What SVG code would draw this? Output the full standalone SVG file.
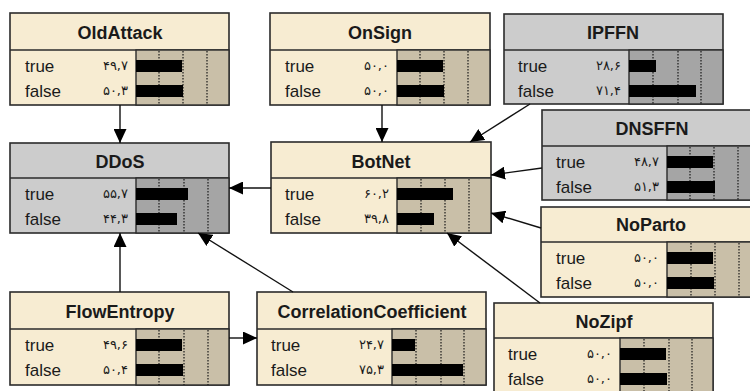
<svg xmlns="http://www.w3.org/2000/svg" width="750" height="391" viewBox="0 0 750 391">
<style>
.box{stroke:#2b2b2b;stroke-width:1.6}
.be{fill:#f7ecd2}
.gr{fill:#cccccc}
.bab{fill:#c9bfa8;stroke:#2b2b2b;stroke-width:1.4}
.bag{fill:#a5a5a5;stroke:#2b2b2b;stroke-width:1.4}
.sep{stroke:#2b2b2b;stroke-width:1.4}
.dot{stroke:#1a1a1a;stroke-width:1.2;stroke-dasharray:1.5 1.5}
.bar{fill:#000}
.t{font-family:"Liberation Sans",Arial,sans-serif;font-weight:bold;font-size:18px;text-anchor:middle;fill:#1a1a1a}
.l{font-family:"Liberation Sans",Arial,sans-serif;font-size:17px;fill:#1a1a1a}
.n{font-family:"DejaVu Sans",sans-serif;font-size:13px;text-anchor:end;fill:#1a1a1a;letter-spacing:1.5px}
.c{stroke:#111;stroke-width:1.4;fill:none;marker-end:url(#ah)}
</style>
<defs>
<marker id="ah" markerUnits="userSpaceOnUse" markerWidth="15" markerHeight="13" refX="14" refY="6.5" orient="auto">
<path d="M0,0 L14,6.5 L0,13 Z" fill="#000"/>
</marker>
</defs>
<rect width="750" height="391" fill="#fff"/>

<g id="OldAttack">
<rect class="box be" x="10" y="13" width="219" height="92"/>
<line class="sep" x1="10" y1="50" x2="229" y2="50"/>
<rect class="bab" x="136" y="50" width="93" height="55"/>
<line class="dot" x1="159" y1="51" x2="159" y2="105"/><line class="dot" x1="183" y1="51" x2="183" y2="105"/><line class="dot" x1="207" y1="51" x2="207" y2="105"/>
<rect class="bar" x="136" y="60" width="46" height="12"/><rect class="bar" x="136" y="85" width="47" height="12"/>
<text class="t" x="120" y="39">OldAttack</text>
<text class="l" x="25" y="72">true</text><text class="l" x="25" y="97">false</text>
<text class="n" x="128" y="70">۴۹,۷</text><text class="n" x="128" y="95">۵۰,۳</text>
</g>

<g id="OnSign">
<rect class="box be" x="270" y="13" width="220" height="92"/>
<line class="sep" x1="270" y1="50" x2="490" y2="50"/>
<rect class="bab" x="397" y="50" width="93" height="55"/>
<line class="dot" x1="420" y1="51" x2="420" y2="105"/><line class="dot" x1="444" y1="51" x2="444" y2="105"/><line class="dot" x1="468" y1="51" x2="468" y2="105"/>
<rect class="bar" x="397" y="60" width="46" height="12"/><rect class="bar" x="397" y="85" width="47" height="12"/>
<text class="t" x="380" y="39">OnSign</text>
<text class="l" x="285" y="72">true</text><text class="l" x="285" y="97">false</text>
<text class="n" x="389" y="70">۵۰,۰</text><text class="n" x="389" y="95">۵۰,۰</text>
</g>

<g id="IPFFN">
<rect class="box gr" x="504" y="14" width="219" height="90"/>
<line class="sep" x1="504" y1="50" x2="723" y2="50"/>
<rect class="bag" x="629" y="50" width="94" height="54"/>
<line class="dot" x1="653" y1="51" x2="653" y2="104"/><line class="dot" x1="678" y1="51" x2="678" y2="104"/><line class="dot" x1="701" y1="51" x2="701" y2="104"/>
<rect class="bar" x="629" y="60" width="27" height="12"/><rect class="bar" x="629" y="85" width="67" height="12"/>
<text class="t" x="613" y="39">IPFFN</text>
<text class="l" x="518" y="72">true</text><text class="l" x="518" y="97">false</text>
<text class="n" x="621" y="70">۲۸,۶</text><text class="n" x="621" y="95">۷۱,۴</text>
</g>

<g id="DNSFFN">
<rect class="box gr" x="542" y="110" width="222" height="90"/>
<line class="sep" x1="542" y1="146" x2="764" y2="146"/>
<rect class="bag" x="667" y="146" width="97" height="54"/>
<line class="dot" x1="690" y1="147" x2="690" y2="200"/><line class="dot" x1="714" y1="147" x2="714" y2="200"/><line class="dot" x1="738" y1="147" x2="738" y2="200"/>
<rect class="bar" x="667" y="156" width="46" height="12"/><rect class="bar" x="667" y="181" width="48" height="12"/>
<text class="t" x="652" y="135">DNSFFN</text>
<text class="l" x="556" y="168">true</text><text class="l" x="556" y="193">false</text>
<text class="n" x="659" y="166">۴۸,۷</text><text class="n" x="659" y="191">۵۱,۳</text>
</g>

<g id="NoParto">
<rect class="box be" x="541" y="207" width="223" height="90"/>
<line class="sep" x1="541" y1="242" x2="764" y2="242"/>
<rect class="bab" x="667" y="242" width="97" height="55"/>
<line class="dot" x1="691" y1="243" x2="691" y2="297"/><line class="dot" x1="715" y1="243" x2="715" y2="297"/><line class="dot" x1="739" y1="243" x2="739" y2="297"/>
<rect class="bar" x="667" y="252" width="46" height="12"/><rect class="bar" x="667" y="277" width="47" height="12"/>
<text class="t" x="651" y="231">NoParto</text>
<text class="l" x="556" y="264">true</text><text class="l" x="556" y="289">false</text>
<text class="n" x="659" y="262">۵۰,۰</text><text class="n" x="659" y="287">۵۰,۰</text>
</g>

<g id="DDoS">
<rect class="box gr" x="10" y="143" width="219" height="90"/>
<line class="sep" x1="10" y1="178" x2="229" y2="178"/>
<rect class="bag" x="136" y="178" width="93" height="55"/>
<line class="dot" x1="159" y1="179" x2="159" y2="233"/><line class="dot" x1="184" y1="179" x2="184" y2="233"/><line class="dot" x1="208" y1="179" x2="208" y2="233"/>
<rect class="bar" x="136" y="188" width="52" height="12"/><rect class="bar" x="136" y="213" width="41" height="12"/>
<text class="t" x="120" y="168">DDoS</text>
<text class="l" x="25" y="200">true</text><text class="l" x="25" y="225">false</text>
<text class="n" x="128" y="198">۵۵,۷</text><text class="n" x="128" y="223">۴۴,۳</text>
</g>

<g id="BotNet">
<rect class="box be" x="271" y="142" width="220" height="91"/>
<line class="sep" x1="271" y1="178" x2="491" y2="178"/>
<rect class="bab" x="397" y="178" width="94" height="55"/>
<line class="dot" x1="421" y1="179" x2="421" y2="233"/><line class="dot" x1="445" y1="179" x2="445" y2="233"/><line class="dot" x1="469" y1="179" x2="469" y2="233"/>
<rect class="bar" x="397" y="188" width="56" height="12"/><rect class="bar" x="397" y="213" width="37" height="12"/>
<text class="t" x="381" y="168">BotNet</text>
<text class="l" x="285" y="200">true</text><text class="l" x="285" y="225">false</text>
<text class="n" x="389" y="198">۶۰,۲</text><text class="n" x="389" y="223">۳۹,۸</text>
</g>

<g id="FlowEntropy">
<rect class="box be" x="10" y="292" width="219" height="93"/>
<line class="sep" x1="10" y1="329" x2="229" y2="329"/>
<rect class="bab" x="136" y="329" width="93" height="56"/>
<line class="dot" x1="159" y1="330" x2="159" y2="385"/><line class="dot" x1="184" y1="330" x2="184" y2="385"/><line class="dot" x1="208" y1="330" x2="208" y2="385"/>
<rect class="bar" x="136" y="339" width="46" height="12"/><rect class="bar" x="136" y="364" width="47" height="12"/>
<text class="t" x="120" y="318">FlowEntropy</text>
<text class="l" x="25" y="351">true</text><text class="l" x="25" y="376">false</text>
<text class="n" x="128" y="349">۴۹,۶</text><text class="n" x="128" y="374">۵۰,۴</text>
</g>

<g id="CorrelationCoefficient">
<rect class="box be" x="257" y="292" width="229" height="93"/>
<line class="sep" x1="257" y1="329" x2="486" y2="329"/>
<rect class="bab" x="392" y="329" width="94" height="56"/>
<line class="dot" x1="416" y1="330" x2="416" y2="385"/><line class="dot" x1="441" y1="330" x2="441" y2="385"/><line class="dot" x1="464" y1="330" x2="464" y2="385"/>
<rect class="bar" x="392" y="339" width="23" height="12"/><rect class="bar" x="392" y="364" width="71" height="12"/>
<text class="t" x="372" y="318">CorrelationCoefficient</text>
<text class="l" x="271" y="351">true</text><text class="l" x="271" y="376">false</text>
<text class="n" x="384" y="349">۲۴,۷</text><text class="n" x="384" y="374">۷۵,۳</text>
</g>

<g id="NoZipf">
<rect class="box be" x="494" y="303" width="219" height="100"/>
<line class="sep" x1="494" y1="338" x2="713" y2="338"/>
<rect class="bab" x="620" y="338" width="93" height="65"/>
<line class="dot" x1="644" y1="339" x2="644" y2="391"/><line class="dot" x1="669" y1="339" x2="669" y2="391"/><line class="dot" x1="692" y1="339" x2="692" y2="391"/>
<rect class="bar" x="620" y="348" width="46" height="12"/><rect class="bar" x="620" y="373" width="47" height="12"/>
<text class="t" x="604" y="328">NoZipf</text>
<text class="l" x="508" y="360">true</text><text class="l" x="508" y="385">false</text>
<text class="n" x="612" y="358">۵۰,۰</text><text class="n" x="612" y="383">۵۰,۰</text>
</g>

<g id="connectors">
<path class="c" d="M120,105 L120,143"/>
<path class="c" d="M382,105 L382,142"/>
<path class="c" d="M530,104 L470,142"/>
<path class="c" d="M542,168 L491,175"/>
<path class="c" d="M541,228 L491,213"/>
<path class="c" d="M540,303 L447,233"/>
<path class="c" d="M271,188 L229,188"/>
<path class="c" d="M293,292 L198,233"/>
<path class="c" d="M120,292 L120,233"/>
<path class="c" d="M229,338 L257,338"/>
</g>
</svg>
